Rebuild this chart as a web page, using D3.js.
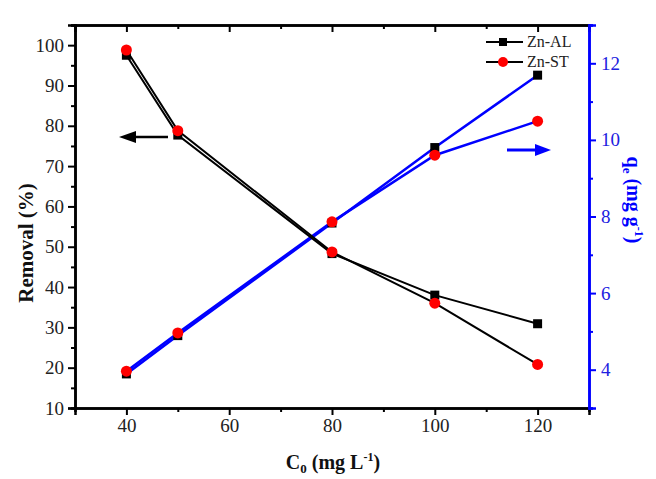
<!DOCTYPE html>
<html><head><meta charset="utf-8">
<script src="https://cdn.jsdelivr.net/npm/d3@7"></script>
<style>body{margin:0;background:#fff}svg{display:block}text{font-family:"Liberation Serif","Times New Roman",serif}</style>
</head><body><svg id="c" width="656" height="479"></svg>
<script>
const concentrations = [40, 50, 80, 100, 120];
const removalAL = [97.5, 77.7, 48.3, 38.0, 30.9];
const removalST = [98.8, 78.8, 48.7, 36.0, 20.8];
const qeAL = [3.89, 4.89, 7.83, 9.8, 11.69];
const qeST = [3.96, 4.96, 7.86, 9.6, 10.49];
const xTicks = [40, 60, 80, 100, 120];
const yLeftTicks = [10, 20, 30, 40, 50, 60, 70, 80, 90, 100];
const yRightTicks = [4, 6, 8, 10, 12];
const seriesNames = ["Zn-AL", "Zn-ST"];

const svg = d3.select("#c");
const L = 75, R = 589, T = 25, B = 408;
const x = d3.scaleLinear().domain([30, 130]).range([L, R]);
const yL = d3.scaleLinear().domain([10, 105]).range([B, T]);
const yR = d3.scaleLinear().domain([3, 13]).range([B, T]);

svg.append("g").attr("transform", `translate(0,${B})`)
  .call(d3.axisBottom(x).tickValues(xTicks).tickSize(7).tickPadding(4).tickFormat(d3.format("d")));
svg.append("g").attr("transform", `translate(0,${B})`)
  .call(d3.axisBottom(x).tickValues([50,70,90,110]).tickSize(4).tickFormat(""));
svg.append("g").attr("transform", `translate(0,${T})`)
  .call(d3.axisBottom(x).tickValues(xTicks).tickSize(7).tickFormat(""));
svg.append("g").attr("transform", `translate(0,${T})`)
  .call(d3.axisBottom(x).tickValues([50,70,90,110]).tickSize(4).tickFormat(""));
svg.append("g").attr("transform", `translate(${L},0)`)
  .call(d3.axisLeft(yL).tickValues(yLeftTicks).tickSize(7).tickPadding(4));
svg.append("g").attr("transform", `translate(${L},0)`)
  .call(d3.axisLeft(yL).tickValues(d3.range(15, 106, 10)).tickSize(4).tickFormat(""));
svg.append("g").attr("class","blue").attr("transform", `translate(${R},0)`)
  .call(d3.axisRight(yR).tickValues(yRightTicks).tickSize(7).tickPadding(5));
svg.append("g").attr("class","blue").attr("transform", `translate(${R},0)`)
  .call(d3.axisRight(yR).tickValues([3,5,7,9,11,13]).tickSize(4).tickFormat(""));

svg.selectAll(".domain").attr("stroke-width", 2.5);
svg.selectAll(".tick line").attr("stroke-width", 2);
svg.selectAll(".tick text")
  .style("font-family", '"Liberation Serif","Times New Roman",serif')
  .style("font-size", "19px").attr("fill", "#222");
svg.selectAll("g.blue .domain, g.blue .tick line").attr("stroke", "#0000ff");
svg.selectAll("g.blue text").attr("fill", "#2020e0");

const lineL = (vals, sc) => d3.line().x((d, i) => x(concentrations[i])).y(d => sc(d))(vals);
svg.append("path").attr("d", lineL(qeAL, yR)).attr("fill","none").attr("stroke","#0000ff").attr("stroke-width",2.5);
svg.append("path").attr("d", lineL(qeST, yR)).attr("fill","none").attr("stroke","#0000ff").attr("stroke-width",2.5);
svg.append("path").attr("d", lineL(removalAL, yL)).attr("fill","none").attr("stroke","#000").attr("stroke-width",2);
svg.append("path").attr("d", lineL(removalST, yL)).attr("fill","none").attr("stroke","#000").attr("stroke-width",2);

function squares(vals, sc) {
  svg.append("g").selectAll("rect").data(vals).join("rect")
    .attr("x", (d, i) => x(concentrations[i]) - 4.5).attr("y", d => sc(d) - 4.5)
    .attr("width", 9).attr("height", 9).attr("fill", "#000");
}
function circles(vals, sc) {
  svg.append("g").selectAll("circle").data(vals).join("circle")
    .attr("cx", (d, i) => x(concentrations[i])).attr("cy", d => sc(d))
    .attr("r", 5.5).attr("fill", "#ff0000");
}
squares(removalAL, yL); squares(qeAL, yR);
circles(removalST, yL); circles(qeST, yR);

svg.append("line").attr("x1", 168).attr("x2", 132).attr("y1", 137).attr("y2", 137).attr("stroke","#000").attr("stroke-width",2.5);
svg.append("path").attr("d", "M119,137 L136,131 L136,143 Z").attr("fill","#000");
svg.append("line").attr("x1", 507).attr("x2", 538).attr("y1", 150).attr("y2", 150).attr("stroke","#0000ff").attr("stroke-width",3);
svg.append("path").attr("d", "M551,150 L535,144 L535,156 Z").attr("fill","#0000ff");

const leg = svg.append("g");
seriesNames.forEach((n, i) => {
  const ly = 42 + i * 20;
  leg.append("line").attr("x1", 486).attr("x2", 523).attr("y1", ly).attr("y2", ly).attr("stroke","#000").attr("stroke-width",2);
  if (i === 0) leg.append("rect").attr("x", 499).attr("y", ly - 4).attr("width", 8).attr("height", 8).attr("fill", "#000");
  else leg.append("circle").attr("cx", 503).attr("cy", ly).attr("r", 5).attr("fill", "#ff0000");
  leg.append("text").attr("x", 527).attr("y", ly + 5).style("font-size", "16px").attr("fill", "#222").text(n);
});

const xt = svg.append("text").attr("x", 333).attr("y", 469).attr("text-anchor","middle")
  .attr("font-size","20px").attr("font-weight","bold").attr("fill","#111");
xt.append("tspan").text("C");
xt.append("tspan").attr("font-size","13px").attr("dy", 4).text("0");
xt.append("tspan").attr("dy", -4).text(" (mg L");
xt.append("tspan").attr("font-size","12px").attr("dy", -8).text("-1");
xt.append("tspan").attr("dy", 8).text(")");

svg.append("text").attr("transform","translate(33,243) rotate(-90)").attr("text-anchor","middle")
  .attr("font-size","21px").attr("font-weight","bold").attr("fill","#111").text("Removal (%)");

const rt = svg.append("text").attr("transform","translate(627,200) rotate(90)").attr("text-anchor","middle")
  .attr("font-size","20px").attr("font-weight","bold").attr("fill","#0000ff");
rt.append("tspan").text("q");
rt.append("tspan").attr("font-size","13px").attr("dy", 4).text("e");
rt.append("tspan").attr("dy", -4).text(" (mg g");
rt.append("tspan").attr("font-size","12px").attr("dy", -8).text("-1");
rt.append("tspan").attr("dy", 8).text(")");
</script></body></html>
